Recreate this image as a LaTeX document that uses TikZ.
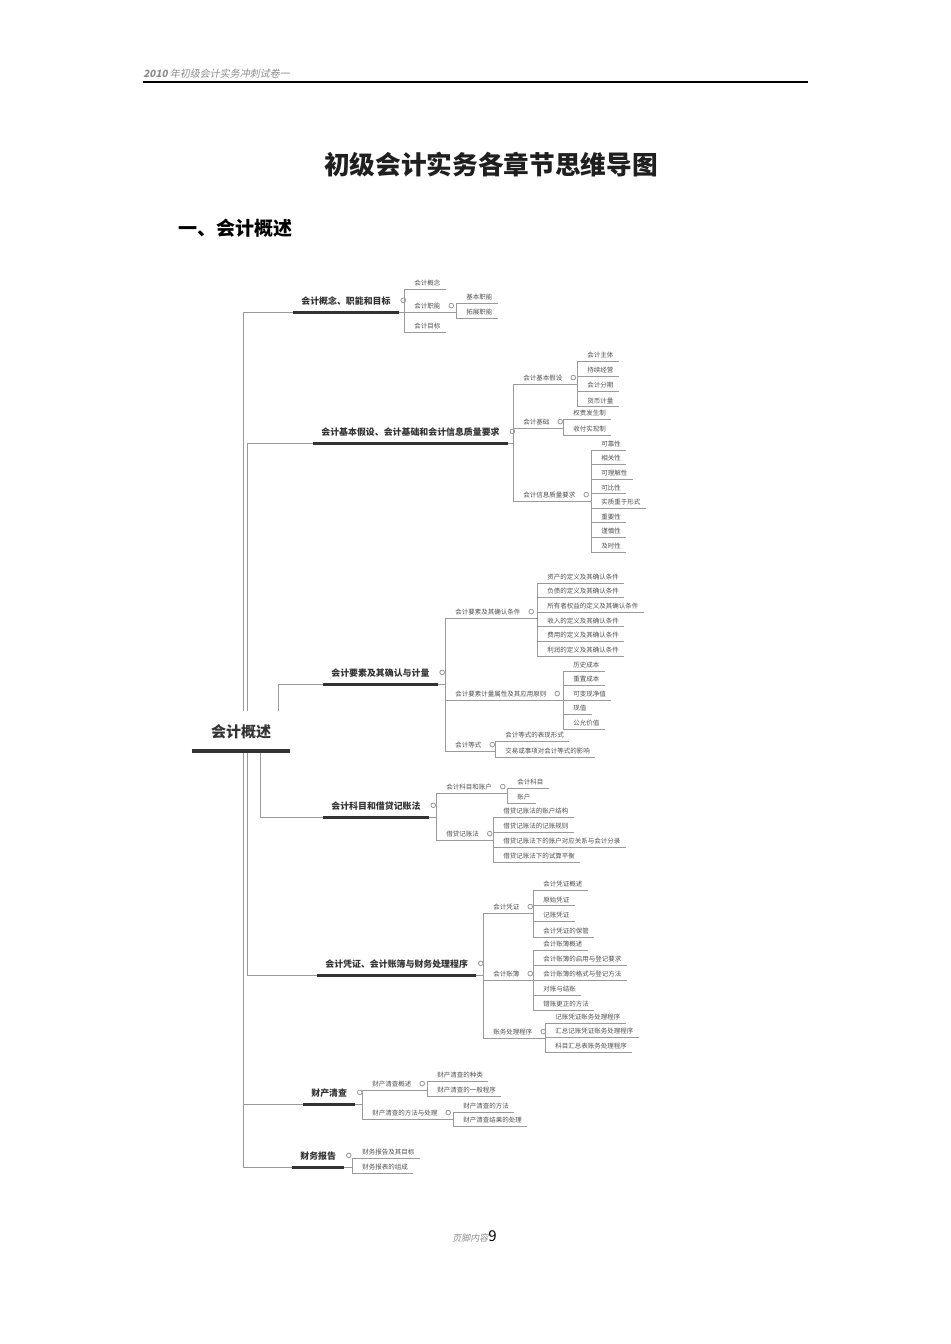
\documentclass[tikz,border=0pt]{standalone}
\usepackage{fontspec}
\setmainfont{Noto Sans CJK SC}
\newfontfamily\hdrfont[FakeSlant=0.2]{Noto Sans CJK SC}
\usetikzlibrary{positioning}

\definecolor{linegray}{HTML}{9A9A9A}
\definecolor{inkdark}{HTML}{333333}
\definecolor{leafink}{HTML}{505050}
\definecolor{hdrgray}{HTML}{8C8C8C}

\newcommand\leaffont{\fontsize{3.9pt}{4.6pt}\selectfont}
\newcommand\topicfont{\fontsize{5.35pt}{6.2pt}\selectfont}
\newcommand\rootfont{\fontsize{9pt}{10.5pt}\selectfont}

\begin{document}
\begin{tikzpicture}[x=0.6pt,y=-0.6pt,
  conn/.style={draw=linegray,line width=0.6pt},
  topicline/.style={draw=inkdark,line width=1.8pt},
  rootline/.style={draw=inkdark,line width=1.9pt},
  childtext/.style={anchor=south west,inner xsep=3pt,inner ysep=2pt,text depth=0pt,
    font=\leaffont,text=leafink,execute at begin node={\hspace*{3pt}}},
  leaf/.style={childtext,append after command={(\tikzlastnode.south west) edge[conn] (\tikzlastnode.south east)}},
  branch/.style={childtext},
  topic/.style={anchor=south west,inner xsep=4.8pt,inner ysep=4.5pt,text depth=0pt,
    font=\topicfont\bfseries,text=inkdark,
    append after command={(\tikzlastnode.south west) edge[topicline] (\tikzlastnode.south east)}},
  root/.style={anchor=south,fill=white,minimum width=58.8pt,inner ysep=8pt,text depth=0pt,
    font=\rootfont\bfseries,text=inkdark,
    append after command={(\tikzlastnode.south west) edge[rootline] (\tikzlastnode.south east)}},
  fold/.style={circle,draw=linegray,line width=0.5pt,fill=white,inner sep=0pt,minimum size=2.8pt}]
  \useasboundingbox (0,0) rectangle (950,1344);
  \fill[white] (0,0) rectangle (950,1344);

  % ---- page header, title ----
  \node[anchor=west,inner sep=0pt,font=\hdrfont\fontsize{6pt}{7pt}\selectfont,text=hdrgray] (hdr) at (143,74)
    {{\bfseries 2010} 年初级会计实务冲刺试卷一};
  \draw[line width=0.7pt] (143,82) -- (808,82);
  \node[font=\fontsize{15.4pt}{18pt}\selectfont\bfseries,text=black!88] (title) at (491,165) {初级会计实务各章节思维导图};
  \node[anchor=west,inner sep=0pt,font=\fontsize{11.4pt}{13pt}\selectfont\bfseries] (sec) at (178,228) {一、会计概述};

  % ---- 1: concept ----
  \node[topic] (t1) at (293,312) {会计概念、职能和目标};
  \node[fold,right=1pt of t1] (t1f) {};
  \node[leaf] (c1a) at (404,289) {会计概念};
  \node[branch] (c1b) at (404,312) {会计职能};
  \node[fold,right=1.7pt of c1b] (c1bf) {};
  \node[leaf] (c1c) at (404,332) {会计目标};
  \node[leaf] (g1b1) at (456,303) {基本职能};
  \node[leaf] (g1b2) at (456,318) {拓展职能};
  \draw[conn] (t1.south east) -- (t1.south east -| c1a.south west);
  \draw[conn] (c1a.south west) -- (c1c.south west);
  \draw[conn] (c1b.south west) -- (c1b.south west -| g1b1.south west);
  \draw[conn] (g1b1.south west) -- (g1b2.south west);

  % ---- 2: assumptions, basis, quality ----
  \node[topic] (t2) at (313,443) {会计基本假设、会计基础和会计信息质量要求};
  \node[fold,right=1pt of t2] (t2f) {};
  \node[branch] (c2a) at (513,384) {会计基本假设};
  \node[branch] (c2b) at (513,428) {会计基础};
  \node[branch] (c2c) at (513,501) {会计信息质量要求};
  \foreach \n in {c2a,c2b,c2c} \node[fold,right=1.7pt of \n] {};
  \foreach \t [count=\i] in {会计主体,持续经营,会计分期,货币计量}
    \node[leaf] (g2a\i) at (577,{361+15.3*(\i-1)}) {\t};
  \foreach \t [count=\i] in {权责发生制,收付实现制}
    \node[leaf] (g2b\i) at (563,{419+16*(\i-1)}) {\t};
  \foreach \t [count=\i] in {可靠性,相关性,可理解性,可比性,实质重于形式,重要性,谨慎性,及时性}
    \node[leaf] (g2c\i) at (591,{450+14.57*(\i-1)}) {\t};
  \draw[conn] (t2.south east) -- (t2.south east -| c2a.south west);
  \draw[conn] (c2a.south west) -- (c2c.south west);
  \draw[conn] (c2a.south west) -- (c2a.south west -| g2a1.south west);
  \draw[conn] (g2a1.south west) -- (g2a4.south west);
  \draw[conn] (c2b.south west) -- (c2b.south west -| g2b1.south west);
  \draw[conn] (g2b1.south west) -- (g2b2.south west);
  \draw[conn] (c2c.south west) -- (c2c.south west -| g2c1.south west);
  \draw[conn] (g2c1.south west) -- (g2c8.south west);

  % ---- 3: elements ----
  \node[topic] (t3) at (323,684) {会计要素及其确认与计量};
  \node[fold,right=1pt of t3] (t3f) {};
  \node[branch] (c3a) at (445,618) {会计要素及其确认条件};
  \node[branch] (c3b) at (445,700) {会计要素计量属性及其应用原则};
  \node[branch] (c3c) at (445,751) {会计等式};
  \foreach \n in {c3a,c3b,c3c} \node[fold,right=1.7pt of \n] {};
  \foreach \t [count=\i] in {资产的定义及其确认条件,负债的定义及其确认条件,所有者权益的定义及其确认条件,
      收入的定义及其确认条件,费用的定义及其确认条件,利润的定义及其确认条件}
    \node[leaf] (g3a\i) at (537,{583+14.6*(\i-1)}) {\t};
  \foreach \t [count=\i] in {历史成本,重置成本,可变现净值,现值,公允价值}
    \node[leaf] (g3b\i) at (563,{671+14.5*(\i-1)}) {\t};
  \foreach \t [count=\i] in {会计等式的表现形式,交易或事项对会计等式的影响}
    \node[leaf] (g3c\i) at (495,{741+16*(\i-1)}) {\t};
  \draw[conn] (t3.south east) -- (t3.south east -| c3a.south west);
  \draw[conn] (c3a.south west) -- (c3c.south west);
  \draw[conn] (c3a.south west) -- (c3a.south west -| g3a1.south west);
  \draw[conn] (g3a1.south west) -- (g3a6.south west);
  \draw[conn] (c3b.south west) -- (c3b.south west -| g3b1.south west);
  \draw[conn] (g3b1.south west) -- (g3b5.south west);
  \draw[conn] (c3c.south west) -- (c3c.south west -| g3c1.south west);
  \draw[conn] (g3c1.south west) -- (g3c2.south west);

  % ---- 4: accounts, double entry ----
  \node[topic] (t4) at (323,817) {会计科目和借贷记账法};
  \node[fold,right=1pt of t4] (t4f) {};
  \node[branch] (c4a) at (436,793) {会计科目和账户};
  \node[branch] (c4b) at (436,840) {借贷记账法};
  \foreach \n in {c4a,c4b} \node[fold,right=1.7pt of \n] {};
  \foreach \t [count=\i] in {会计科目,账户}
    \node[leaf] (g4a\i) at (507,{788+15*(\i-1)}) {\t};
  \foreach \t [count=\i] in {借贷记账法的账户结构,借贷记账法的记账规则,借贷记账法下的账户对应关系与会计分录,借贷记账法下的试算平衡}
    \node[leaf] (g4b\i) at (493,{817+15*(\i-1)}) {\t};
  \draw[conn] (t4.south east) -- (t4.south east -| c4a.south west);
  \draw[conn] (c4a.south west) -- (c4b.south west);
  \draw[conn] (c4a.south west) -- (c4a.south west -| g4a1.south west);
  \draw[conn] (g4a1.south west) -- (g4a2.south west);
  \draw[conn] (c4b.south west) -- (c4b.south west -| g4b1.south west);
  \draw[conn] (g4b1.south west) -- (g4b4.south west);

  % ---- 5: vouchers, books, procedures ----
  \node[topic] (t5) at (317,975) {会计凭证、会计账簿与财务处理程序};
  \node[fold,right=1pt of t5] (t5f) {};
  \node[branch] (c5a) at (483,913) {会计凭证};
  \node[branch] (c5b) at (483,980) {会计账簿};
  \node[branch] (c5c) at (483,1038) {账务处理程序};
  \foreach \n in {c5a,c5b,c5c} \node[fold,right=1.7pt of \n] {};
  \foreach \t [count=\i] in {会计凭证概述,原始凭证,记账凭证,会计凭证的保管}
    \node[leaf] (g5a\i) at (533,{890+15.67*(\i-1)}) {\t};
  \foreach \t [count=\i] in {会计账簿概述,会计账簿的启用与登记要求,会计账簿的格式与登记方法,对账与结账,错账更正的方法}
    \node[leaf] (g5b\i) at (533,{950+15*(\i-1)}) {\t};
  \foreach \t [count=\i] in {记账凭证账务处理程序,汇总记账凭证账务处理程序,科目汇总表账务处理程序}
    \node[leaf] (g5c\i) at (545,{1023+14.5*(\i-1)}) {\t};
  \draw[conn] (t5.south east) -- (t5.south east -| c5a.south west);
  \draw[conn] (c5a.south west) -- (c5c.south west);
  \draw[conn] (c5a.south west) -- (c5a.south west -| g5a1.south west);
  \draw[conn] (g5a1.south west) -- (g5a4.south west);
  \draw[conn] (c5b.south west) -- (c5b.south west -| g5b1.south west);
  \draw[conn] (g5b1.south west) -- (g5b5.south west);
  \draw[conn] (c5c.south west) -- (c5c.south west -| g5c1.south west);
  \draw[conn] (g5c1.south west) -- (g5c3.south west);

  % ---- 6: stocktaking ----
  \node[topic] (t6) at (303,1104) {财产清查};
  \node[fold,right=1pt of t6] (t6f) {};
  \node[branch] (c6a) at (362,1090) {财产清查概述};
  \node[branch] (c6b) at (362,1119) {财产清查的方法与处理};
  \foreach \n in {c6a,c6b} \node[fold,right=1.7pt of \n] {};
  \foreach \t [count=\i] in {财产清查的种类,财产清查的一般程序}
    \node[leaf] (g6a\i) at (427,{1081+15*(\i-1)}) {\t};
  \foreach \t [count=\i] in {财产清查的方法,财产清查结果的处理}
    \node[leaf] (g6b\i) at (453,{1112+14*(\i-1)}) {\t};
  \draw[conn] (t6.south east) -- (t6.south east -| c6a.south west);
  \draw[conn] (c6a.south west) -- (c6b.south west);
  \draw[conn] (c6a.south west) -- (c6a.south west -| g6a1.south west);
  \draw[conn] (g6a1.south west) -- (g6a2.south west);
  \draw[conn] (c6b.south west) -- (c6b.south west -| g6b1.south west);
  \draw[conn] (g6b1.south west) -- (g6b2.south west);

  % ---- 7: reports ----
  \node[topic] (t7) at (292,1167) {财务报告};
  \node[fold,right=1pt of t7] (t7f) {};
  \foreach \t [count=\i] in {财务报告及其目标,财务报表的组成}
    \node[leaf] (c7\i) at (352,{1158+15*(\i-1)}) {\t};
  \draw[conn] (t7.south east) -- (t7.south east -| c71.south west);
  \draw[conn] (c71.south west) -- (c72.south west);

  % ---- trunk from the root ----
  \coordinate (ra) at (243,731);
  \coordinate (rb) at (247,731);
  \coordinate (rc) at (278,731);
  \coordinate (rd) at (260,731);
  \draw[conn] (ra) |- (t1.south west);
  \draw[conn] (ra) |- (t6.south west);
  \draw[conn] (ra) |- (t7.south west);
  \draw[conn] (rb) |- (t2.south west);
  \draw[conn] (rb) |- (t5.south west);
  \draw[conn] (rc) |- (t3.south west);
  \draw[conn] (rd) |- (t4.south west);
  \node[root] (root) at (241,751) {会计概述};

  % ---- footer ----
  \node[anchor=base west,inner sep=0pt] (foot) at (452,1241)
    {{\hdrfont\fontsize{5.4pt}{6pt}\selectfont\color{hdrgray}页脚内容}{\fontsize{9pt}{10pt}\selectfont 9}};
\end{tikzpicture}
\end{document}
